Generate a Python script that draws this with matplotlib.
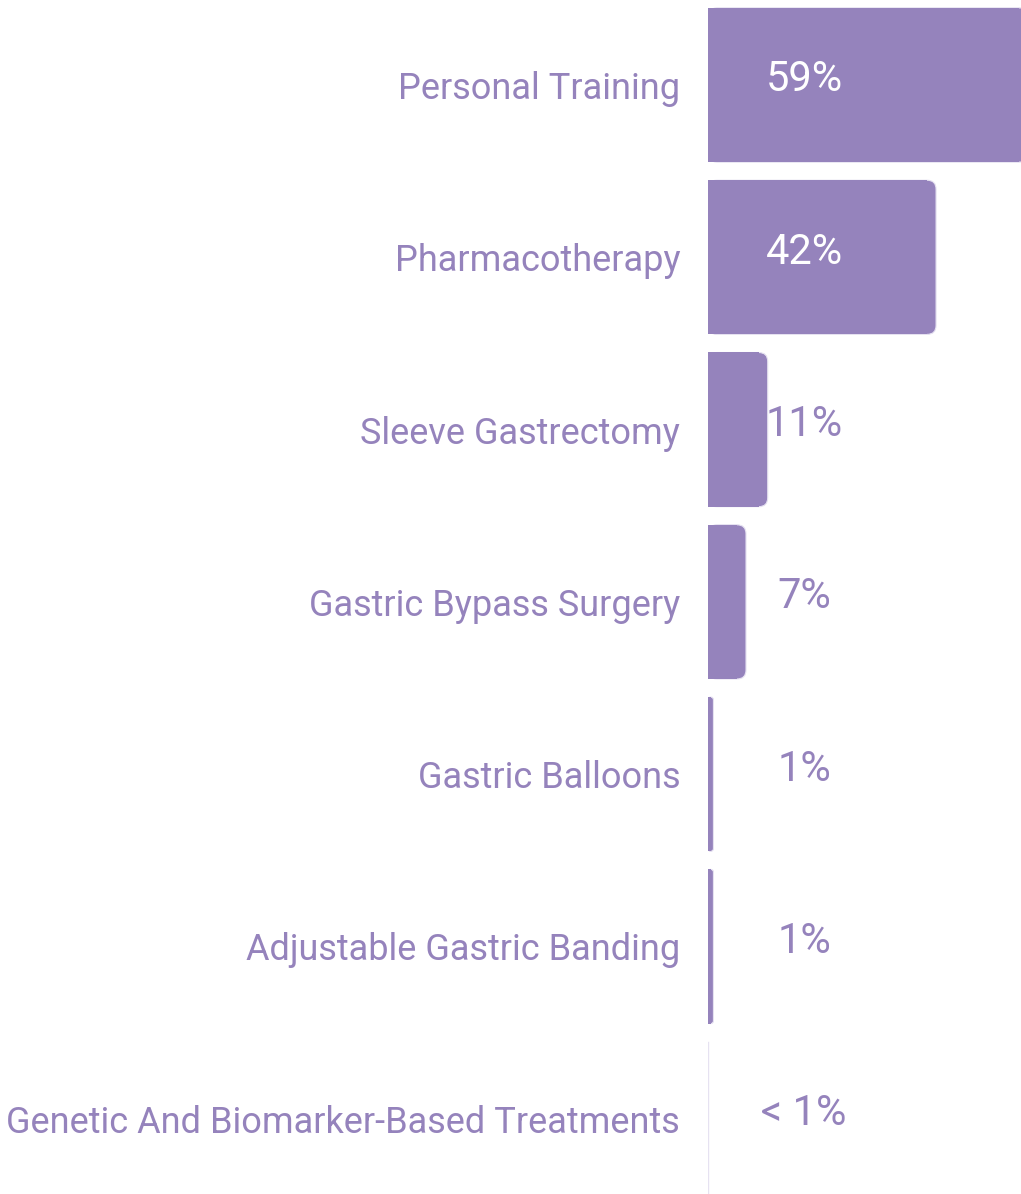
import matplotlib.pyplot as plt
from matplotlib.patches import FancyBboxPatch, Rectangle

categories = ["Personal Training", "Pharmacotherapy", "Sleeve Gastrectomy",
              "Gastric Bypass Surgery", "Gastric Balloons",
              "Adjustable Gastric Banding", "Genetic And Biomarker-Based Treatments"]
values = [59, 42, 11, 7, 1, 1, 0]
value_labels = ["59%", "42%", "11%", "7%", "1%", "1%", "< 1%"]

purple = "#9583bc"
edge = "#e6e2f1"

W, H = 1021, 1194
px_per_pct = 5.43
row_px = 172.3
first_center = 85
bar_h = 0.895

fig = plt.figure(figsize=(W / 100, H / 100), dpi=100)
ax_left = 708
ax = fig.add_axes([ax_left / W, 0, (W - ax_left) / W, 1])
ax.set_xlim(0, (W - ax_left) / px_per_pct)
ax.set_ylim((H - first_center) / row_px, -first_center / row_px)

# rounding radius in x data units, corrected for aspect
r_px = 9
r = r_px / px_per_pct
aspect = (1 / row_px) / (1 / px_per_pct)

for i, v in enumerate(values):
    y0 = i - bar_h / 2
    if v > 0:
        rr = min(r, v / 2)
        box = FancyBboxPatch((0, y0), v, bar_h,
                             boxstyle=f"round,pad=0,rounding_size={rr}",
                             mutation_aspect=aspect, fc=purple, ec=edge, lw=0.8,
                             clip_on=True)
        ax.add_patch(box)
        ax.add_patch(Rectangle((0, y0), v - rr, bar_h, fc=purple, ec="none"))
    else:
        ax.plot([0.05, 0.05], [y0, y0 + bar_h], color=edge, lw=1)

for i, (v, lab) in enumerate(zip(values, value_labels)):
    col = "white" if v > 20 else purple
    ax.text((804 - ax_left) / px_per_pct, i - 0.03, lab, ha="center", va="center",
            fontsize=30, color=col, family="Roboto")

ax.set_yticks(range(len(categories)))
ax.set_yticklabels(categories, fontsize=26, color=purple, family="Roboto")
ax.tick_params(axis="y", length=0, pad=20)
ax.set_xticks([])
for s in ax.spines.values():
    s.set_visible(False)

fig.savefig("out.png", dpi=100)
